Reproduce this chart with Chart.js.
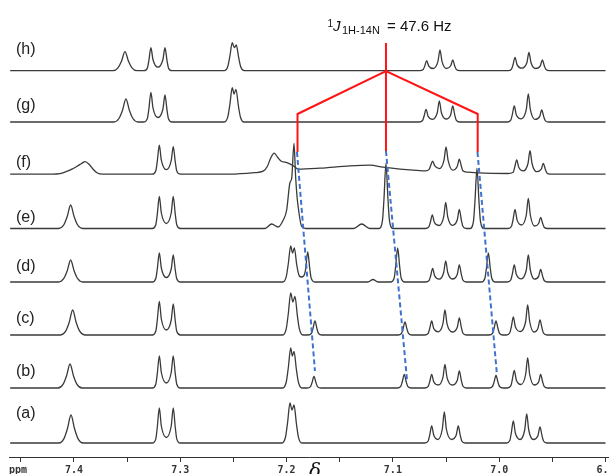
<!DOCTYPE html>
<html><head><meta charset="utf-8">
<script src="https://cdn.jsdelivr.net/npm/chart.js@4.4.1/dist/chart.umd.min.js"></script>
<style>html,body{margin:0;padding:0;background:#fff;}canvas{display:block;}</style>
</head><body>
<canvas id="c" width="609" height="474"></canvas>
<script>
// ---- data: [chemical shift (ppm), intensity above the trace baseline] ----
const traceNames = ['(a)','(b)','(c)','(d)','(e)','(f)','(g)','(h)'];

const specA = [[7.4600,0],
[7.4141,0],[7.4094,4.4],[7.4061,14.5],[7.4028,28],[7.3995,14.5],[7.3962,4.4],[7.3915,0],
[7.3263,0],[7.3230,4.2],[7.3216,15.8],[7.3197,35],[7.3178,17],[7.3131,5.5],[7.3085,17],[7.3066,35],[7.3047,15.8],[7.3033,4.2],[7.3000,0],
[7.2043,0],[7.2010,6],[7.1991,20],[7.1968,40],[7.1949,33],[7.1930,38],[7.1907,19],[7.1888,5.7],[7.1855,0],
[7.0701,0],[7.0668,2],[7.0654,7.6],[7.0635,17],[7.0616,8],[7.0575,3.5],[7.0535,14],[7.0516,31],[7.0497,14],[7.0450,3.5],[7.0404,8],[7.0385,17],[7.0366,7.6],[7.0352,2],[7.0319,0],
[6.9933,0],[6.9900,2.6],[6.9886,10],[6.9867,22],[6.9848,10],[6.9804,3.5],[6.9760,13],[6.9741,29],[6.9722,13],[6.9679,3.5],[6.9635,7.5],[6.9616,16],[6.9597,7.2],[6.9583,2],[6.9550,0],
[6.9000,0]];

const specB = [[7.4600,0],
[7.4150,0],[7.4103,3.6],[7.4070,12],[7.4037,24],[7.4004,12],[7.3971,3.6],[7.3924,0],
[7.3263,0],[7.3230,3.8],[7.3216,14.4],[7.3197,32],[7.3178,15.5],[7.3131,5],[7.3085,15.5],[7.3066,32],[7.3047,14.4],[7.3033,3.8],[7.3000,0],
[7.2036,0],[7.2003,6],[7.1984,20],[7.1961,40],[7.1946,32],[7.1930,36.6],[7.1907,18],[7.1888,5.5],[7.1855,0],
[7.1808,0],[7.1775,1.4],[7.1761,5.2],[7.1742,11.5],[7.1723,5.2],[7.1709,1.4],[7.1676,0],
[7.0959,0],[7.0926,1.6],[7.0912,6],[7.0893,13.5],[7.0874,6],[7.0860,1.6],[7.0827,0],
[7.0701,0],[7.0668,1.6],[7.0654,6],[7.0635,13.5],[7.0616,6.2],[7.0572,3],[7.0529,10.6],[7.0510,23.5],[7.0491,10.6],[7.0443,3],[7.0394,7.8],[7.0375,17],[7.0356,7.6],[7.0342,2],[7.0309,0],
[7.0096,0],[7.0063,1.5],[7.0049,5.6],[7.0030,12.5],[7.0011,5.6],[6.9997,1.5],[6.9964,0],
[6.9924,0],[6.9891,2.1],[6.9877,8],[6.9858,17.5],[6.9839,8],[6.9795,3.5],[6.9751,13.5],[6.9732,30],[6.9713,13.5],[6.9671,3],[6.9629,6],[6.9610,13.5],[6.9591,6],[6.9577,1.6],[6.9544,0],
[6.9000,0]];

const specC = [[7.4600,0],
[7.4125,0],[7.4078,3.8],[7.4045,12.5],[7.4012,25],[7.3979,12.5],[7.3946,3.8],[7.3899,0],
[7.3263,0],[7.3230,4],[7.3216,15],[7.3197,33.5],[7.3178,16],[7.3131,5],[7.3085,15],[7.3066,31],[7.3047,14],[7.3033,3.7],[7.3000,0],
[7.2036,0],[7.2003,6.3],[7.1984,21],[7.1961,42],[7.1941,33],[7.1921,38.6],[7.1898,19],[7.1879,5.8],[7.1846,0],
[7.1799,0],[7.1766,1.7],[7.1752,6.3],[7.1733,14],[7.1714,6.3],[7.1700,1.7],[7.1667,0],
[7.0952,0],[7.0919,1.6],[7.0905,5.8],[7.0886,13],[7.0867,5.8],[7.0853,1.6],[7.0820,0],
[7.0701,0],[7.0668,1.7],[7.0654,6.3],[7.0635,14],[7.0616,6.5],[7.0572,3.2],[7.0529,11.3],[7.0510,25],[7.0491,11.3],[7.0443,3],[7.0394,7.8],[7.0375,17],[7.0356,7.6],[7.0342,2],[7.0309,0],
[7.0096,0],[7.0063,1.7],[7.0049,6.3],[7.0030,14],[7.0011,6.3],[6.9997,1.7],[6.9964,0],
[6.9933,0],[6.9900,2.2],[6.9886,8],[6.9867,18],[6.9848,8.2],[6.9800,3.5],[6.9751,13.5],[6.9732,30],[6.9713,13.5],[6.9674,3],[6.9635,6.8],[6.9616,15],[6.9597,6.7],[6.9583,1.8],[6.9550,0],
[6.9000,0]];

const specD = [[7.4600,0],
[7.4144,0],[7.4097,3.3],[7.4064,11],[7.4031,22],[7.3998,11],[7.3965,3.3],[7.3918,0],
[7.3263,0],[7.3230,3.5],[7.3216,13],[7.3197,29],[7.3178,14],[7.3131,4.5],[7.3085,13],[7.3066,27],[7.3047,12],[7.3033,3.2],[7.3000,0],
[7.2036,0],[7.2003,5.4],[7.1984,18],[7.1961,36],[7.1944,29],[7.1927,34],[7.1904,17],[7.1880,6],[7.1858,5],[7.1830,8],[7.1820,13.5],[7.1801,30],[7.1782,13.5],[7.1768,3.6],[7.1735,0],
[7.1235,0],[7.1187,2.5],[7.1140,0],
[7.1021,0],[7.0988,4],[7.0974,15.3],[7.0955,34],[7.0936,15.3],[7.0922,4],[7.0889,0],
[7.0692,0],[7.0659,1.6],[7.0645,6],[7.0626,13.5],[7.0607,6.2],[7.0565,2.8],[7.0522,9.5],[7.0503,21],[7.0484,9.5],[7.0439,3],[7.0394,7.8],[7.0375,17],[7.0356,7.6],[7.0342,2],[7.0309,0],
[7.0168,0],[7.0135,3.5],[7.0121,13],[7.0102,29],[7.0083,13],[7.0069,3.5],[7.0036,0],
[6.9924,0],[6.9891,2],[6.9877,7.7],[6.9858,17],[6.9839,7.8],[6.9792,3.2],[6.9745,12],[6.9726,27],[6.9707,12],[6.9668,2.8],[6.9629,5.6],[6.9610,12.5],[6.9591,5.6],[6.9577,1.5],[6.9544,0],
[6.9000,0]];

const specE = [[7.4600,0],
[7.4144,0],[7.4097,3.5],[7.4064,11.8],[7.4031,23.5],[7.3998,11.8],[7.3965,3.5],[7.3918,0],
[7.3263,0],[7.3230,3.8],[7.3216,14.4],[7.3197,32],[7.3178,15.5],[7.3131,5],[7.3085,15.5],[7.3066,32],[7.3047,14.4],[7.3033,3.8],[7.3000,0],
[7.2203,0],[7.2140,4.5],[7.2080,1.5],[7.2031,8.5],[7.1999,18.5],[7.1968,46],[7.1952,50],[7.1930,85],[7.1915,52],[7.1900,30],[7.1890,21],[7.1872,8],[7.1858,2],[7.1820,0],
[7.1368,0],[7.1293,4.5],[7.1218,0],
[7.1131,0],[7.1098,8],[7.1084,29],[7.1065,65],[7.1046,29],[7.1032,8],[7.0999,0],
[7.0695,0],[7.0662,1.6],[7.0648,6],[7.0629,13.5],[7.0610,6.2],[7.0566,3],[7.0522,11.7],[7.0503,26],[7.0484,11.7],[7.0439,3.2],[7.0394,8.7],[7.0375,19],[7.0356,8.5],[7.0342,2.3],[7.0309,0],
[7.0275,0],[7.0242,7.2],[7.0228,27],[7.0209,60],[7.0190,27],[7.0176,7.2],[7.0143,0],
[6.9917,0],[6.9884,2.3],[6.9870,8.5],[6.9851,19],[6.9832,8.6],[6.9789,3.5],[6.9745,13.5],[6.9726,30],[6.9707,13.5],[6.9668,2.5],[6.9629,5],[6.9610,11],[6.9591,5],[6.9577,1.3],[6.9544,0],
[6.9000,0]];

const specF = [[7.4600,0],
[7.4200,0],[7.4132,0.5],[7.4075,2.5],[7.4019,5],[7.3970,8],[7.3925,11],[7.3896,12.6],[7.3858,10],[7.3820,5],[7.3784,1.5],[7.3730,0],
[7.3263,0],[7.3230,3.5],[7.3216,13],[7.3197,29],[7.3178,14],[7.3131,4.5],[7.3085,13.5],[7.3066,27.6],[7.3047,12.4],[7.3033,3.3],[7.3000,0],
[7.2530,0],[7.2300,1.5],[7.2220,3],[7.2180,8],[7.2150,16],[7.2116,21],[7.2085,17],[7.2050,13],[7.2015,12],[7.1975,10.5],[7.1930,8],[7.1890,5],[7.1686,6],[7.1404,8.3],[7.1215,9],[7.1093,7],[7.0933,5],[7.0745,3.5],
[7.0692,3.3],[7.0659,4.8],[7.0645,8.5],[7.0626,13],[7.0607,8.5],[7.0563,5.5],[7.0519,14],[7.0500,27.3],[7.0481,14],[7.0438,4],[7.0394,8],[7.0375,15],[7.0356,8],[7.0342,3.5],[7.0300,2],[7.0200,1.3],
[6.9920,0.7],[6.9868,2],[6.9854,6.9],[6.9835,14.2],[6.9816,7],[6.9773,3.3],[6.9729,10.7],[6.9710,23.5],[6.9691,10.7],[6.9648,2.5],[6.9604,5],[6.9585,10.8],[6.9566,5],[6.9552,1.3],[6.9519,0],
[6.9000,0]];

const specG = [[7.4600,0],
[7.3624,0],[7.3577,3.5],[7.3544,11.5],[7.3511,23],[7.3478,11.5],[7.3445,3.5],[7.3398,0],
[7.3342,0],[7.3309,3.6],[7.3295,13.4],[7.3276,29.7],[7.3257,14.4],[7.3210,4.5],[7.3163,13],[7.3144,27],[7.3125,12.2],[7.3111,3.2],[7.3078,0],
[7.2586,0],[7.2553,5.1],[7.2534,17],[7.2511,34.3],[7.2494,28],[7.2476,32.7],[7.2453,16],[7.2434,5],[7.2401,0],
[7.0754,0],[7.0721,1.5],[7.0707,5.7],[7.0688,12.7],[7.0669,5.8],[7.0626,2.7],[7.0582,9.5],[7.0563,21],[7.0544,9.5],[7.0500,3],[7.0456,7.3],[7.0437,16],[7.0418,7.2],[7.0404,1.9],[7.0371,0],
[6.9924,0],[6.9891,1.9],[6.9877,7.2],[6.9858,16],[6.9839,7.3],[6.9792,3.2],[6.9745,12.6],[6.9726,28],[6.9707,12.6],[6.9663,2.6],[6.9619,5.4],[6.9600,12],[6.9581,5.4],[6.9567,1.4],[6.9534,0],
[6.9000,0]];

const specH = [[7.4600,0],
[7.3633,0],[7.3586,2.9],[7.3553,9.5],[7.3520,19],[7.3487,9.5],[7.3454,2.9],[7.3407,0],
[7.3342,0],[7.3309,2.8],[7.3295,10.4],[7.3276,23],[7.3257,11.2],[7.3210,3.5],[7.3163,11.2],[7.3144,23],[7.3125,10.4],[7.3111,2.8],[7.3078,0],
[7.2586,0],[7.2553,4.2],[7.2534,14],[7.2511,28],[7.2492,23],[7.2473,25.7],[7.2450,12.8],[7.2431,3.9],[7.2398,0],
[7.0748,0],[7.0715,1.2],[7.0701,4.5],[7.0682,10],[7.0663,4.6],[7.0620,2.2],[7.0576,9.3],[7.0557,20.7],[7.0538,9.3],[7.0497,2.2],[7.0456,4.9],[7.0437,10.7],[7.0418,4.8],[7.0404,1.3],[7.0371,0],
[6.9917,0],[6.9884,1.6],[6.9870,6],[6.9851,13.3],[6.9832,6.1],[6.9786,2.6],[6.9739,8.2],[6.9720,18.3],[6.9701,8.2],[6.9657,2.2],[6.9613,4.9],[6.9594,10.7],[6.9575,4.8],[6.9561,1.3],[6.9528,0],
[6.9000,0]];

const tickLabels = ['7.4','7.3','7.2','7.1','7.0','6.9'];
const axisUnit = 'ppm';
const axisSymbol = 'δ';

// coupling annotation (ppm, stacked intensity)
const couplingCenter = [[7.1065,414],[7.1065,306]];
const couplingFork = [[7.1897,305],[7.1897,343],[7.1065,386],[7.0202,343],[7.0202,305]];
const shiftLeft = [[7.1902,305],[7.1733,86]];
const shiftMid = [[7.1065,306],[7.0867,77]];
const shiftRight = [[7.0204,305],[7.0021,82]];

// ---- layout ----
const spectra = [specA,specB,specC,specD,specE,specF,specG,specH];
const stackOffsets = [14, 69, 122, 175, 228.5, 282.8, 335, 386.3];
const labelCenters = [43, 85.5, 138.5, 190.5, 239, 294, 351, 407.5];
const X_MIN = 6.8967, X_MAX = 7.4611, Y_MAX = 457;

const toXY = (arr, off) => arr.map(p => ({x: p[0], y: p[1] + off}));

const datasets = [];
const annoStyle = (data, color, dash) => ({data, borderColor: color, borderWidth: 2, borderDash: dash || [], pointRadius: 0, tension: 0, fill: false});
datasets.push(annoStyle(toXY(couplingCenter,0), '#ff1414'));
datasets.push(annoStyle(toXY(couplingFork,0), '#ff1414'));
datasets.push(annoStyle(toXY(shiftLeft,0), '#3f72cf', [5,3]));
datasets.push(annoStyle(toXY(shiftMid,0), '#3f72cf', [5,3]));
datasets.push(annoStyle(toXY(shiftRight,0), '#3f72cf', [5,3]));
spectra.forEach((s, i) => {
  datasets.push({label: traceNames[i], data: toXY(s, stackOffsets[i]), borderColor: '#3a3a3a', borderWidth: 1.3,
    pointRadius: 0, cubicInterpolationMode: 'monotone', fill: false});
});

const textPlugin = {
  id: 'texts',
  afterDraw(chart) {
    const ctx = chart.ctx, xs = chart.scales.x, ys = chart.scales.y;
    ctx.save();
    ctx.fillStyle = '#222';
    ctx.font = '16px "Liberation Sans", Arial, sans-serif';
    ctx.textBaseline = 'middle';
    ctx.textAlign = 'left';
    traceNames.forEach((n, i) => ctx.fillText(n, 16, ys.getPixelForValue(labelCenters[i])));
    // coupling label
    ctx.fillStyle = '#111';
    ctx.textBaseline = 'alphabetic';
    ctx.font = '10px "Liberation Sans", Arial, sans-serif';
    ctx.fillText('1', 327.5, 26.5);
    ctx.font = 'italic 15px "Liberation Sans", Arial, sans-serif';
    ctx.fillText('J', 333, 31);
    ctx.font = '11px "Liberation Sans", Arial, sans-serif';
    ctx.fillText('1H-14N', 342, 34);
    ctx.font = '15px "Liberation Sans", Arial, sans-serif';
    ctx.fillText('= 47.6 Hz', 387, 31);
    // axis unit and symbol
    ctx.fillStyle = '#333';
    ctx.font = 'bold 10px "DejaVu Sans Mono", monospace';
    ctx.textBaseline = 'top';
    ctx.fillText(axisUnit, 9, 465);
    ctx.fillStyle = '#111';
    ctx.font = 'italic 20px "DejaVu Serif", "Liberation Serif", serif';
    ctx.fillText(axisSymbol, 309, 463);
    ctx.restore();
  }
};

new Chart(document.getElementById('c'), {
  type: 'line',
  data: {datasets},
  options: {
    responsive: false, animation: false, devicePixelRatio: 1,
    layout: {padding: {left: 9, right: 0, top: 0, bottom: 0}},
    plugins: {legend: {display: false}, tooltip: {enabled: false}},
    scales: {
      x: {type: 'linear', reverse: true, min: X_MIN, max: X_MAX,
        border: {display: true, color: '#333', width: 1},
        grid: {drawOnChartArea: false, drawTicks: true, tickLength: 5, tickColor: '#333'},
        ticks: {stepSize: 0.05, includeBounds: false, autoSkip: false, maxRotation: 0, padding: 2,
          color: '#333', font: {family: '"DejaVu Sans Mono", monospace', size: 10, weight: 'bold'},
          callback: (v) => { const s = Number(v).toFixed(1); return (Math.abs(v*10 - Math.round(v*10)) < 1e-6 && tickLabels.includes(s)) ? s : ''; }},
        afterFit: (sc) => { sc.height = 17; sc.paddingLeft = 0; sc.paddingRight = 0; }
      },
      y: {display: false, min: 0, max: Y_MAX}
    }
  },
  plugins: [textPlugin]
});
</script>
</body></html>
